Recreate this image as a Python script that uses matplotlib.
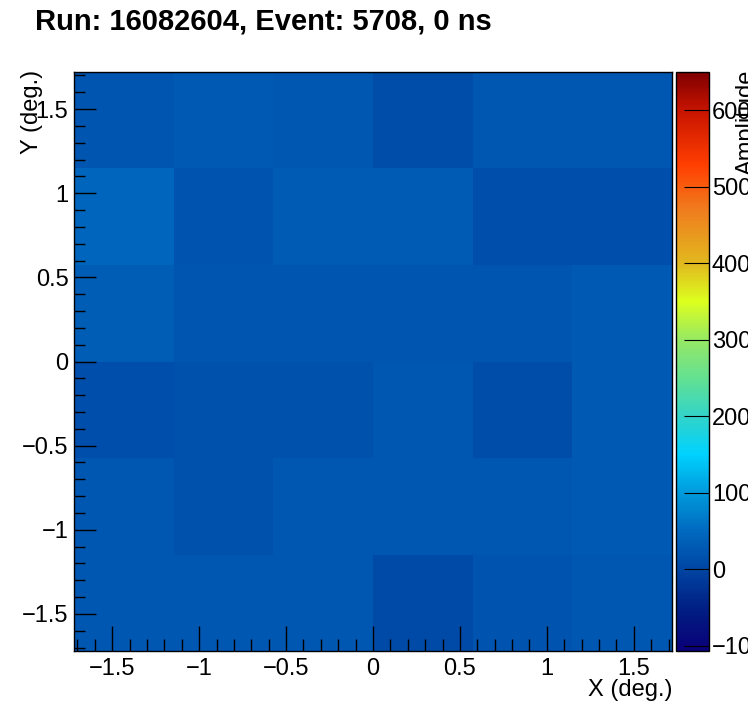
import numpy as np
import matplotlib
matplotlib.use("Agg")
import matplotlib.pyplot as plt
from matplotlib.colors import LinearSegmentedColormap, Normalize
from matplotlib.ticker import MultipleLocator

plt.rcParams['font.family'] = ['Liberation Sans', 'DejaVu Sans']

title = "Run: 16082604, Event: 5708, 0 ns"
x_edges = [-1.72, -1.1467, -0.5733, 0.0, 0.5733, 1.1467, 1.72]
y_edges = [-1.72, -1.1467, -0.5733, 0.0, 0.5733, 1.1467, 1.72]
# amplitude per cell, rows from top (y high) to bottom
amp_row1 = [22, 28, 25, 10, 24, 24]
amp_row2 = [45, 18, 30, 30, 12, 12]
amp_row3 = [32, 22, 22, 22, 22, 28]
amp_row4 = [12, 16, 17, 25, 11, 28]
amp_row5 = [25, 17, 24, 24, 24, 28]
amp_row6 = [24, 24, 24, 8, 20, 25]
zmin, zmax = -107, 650
cbar_ticks = [-100, 0, 100, 200, 300, 400, 500, 600]

Z = np.array([amp_row6, amp_row5, amp_row4, amp_row3, amp_row2, amp_row1], dtype=float)

stops = [(-107, (10, 0, 120)), (-50, (0, 32, 132)), (0, (0, 70, 164)),
         (50, (0, 106, 192)), (100, (0, 155, 220)), (150, (0, 210, 255)),
         (200, (50, 212, 200)), (250, (100, 225, 145)), (300, (150, 232, 100)),
         (350, (220, 255, 30)), (400, (225, 185, 30)), (470, (240, 125, 30)),
         (530, (255, 62, 0)), (600, (200, 20, 0)), (650, (128, 0, 0))]
cmap = LinearSegmentedColormap.from_list(
    "rootrb", [((v - zmin) / (zmax - zmin), tuple(c / 255 for c in col)) for v, col in stops])

fig = plt.figure(figsize=(7.48, 7.24), dpi=100)
ax = fig.add_axes([74/748, 1-651/724, 598/748, 579/724])
norm = Normalize(zmin, zmax)
mesh = ax.pcolormesh(x_edges, y_edges, Z, cmap=cmap, norm=norm)
ax.set_xlim(x_edges[0], x_edges[-1])
ax.set_ylim(y_edges[0], y_edges[-1])

ax.xaxis.set_major_locator(MultipleLocator(0.5))
ax.xaxis.set_minor_locator(MultipleLocator(0.1))
ax.yaxis.set_major_locator(MultipleLocator(0.5))
ax.yaxis.set_minor_locator(MultipleLocator(0.1))
ax.tick_params(which='both', direction='in', top=False, right=False, labelsize=17, width=1)
ax.tick_params(which='major', axis='x', length=18, pad=5)
ax.tick_params(which='minor', axis='x', length=9)
ax.tick_params(which='major', axis='y', length=16, pad=4)
ax.tick_params(which='minor', axis='y', length=8)

def fmt(v, p):
    s = f"{v:g}"
    return s.replace('-', '\u2212')
ax.xaxis.set_major_formatter(plt.FuncFormatter(fmt))
ax.yaxis.set_major_formatter(plt.FuncFormatter(fmt))
for s in ax.spines.values():
    s.set_linewidth(1.0)

fig.text(673/748, 1-690/724, "X (deg.)", ha='right', va='center', fontsize=17)
fig.text(32/748, 1-70/724, "Y (deg.)", ha='center', va='top', rotation=90, fontsize=17)
fig.text(35/748, 1-22/724, title, ha='left', va='center', fontsize=21, fontweight='bold')

cax = fig.add_axes([676/748, 1-651/724, 33/748, 579/724])
cb = fig.colorbar(mesh, cax=cax)
cb.outline.set_linewidth(1.0)
cb.set_ticks(cbar_ticks)
cax.yaxis.set_major_formatter(plt.FuncFormatter(fmt))
cax.tick_params(which='both', direction='in', length=18, labelsize=17, pad=2, right=True, left=False)
cax.minorticks_off()
fig.text(747/748, 1-70/724, "Amplitude", ha='center', va='top', rotation=90, fontsize=17)

fig.savefig("out.png", dpi=100)
